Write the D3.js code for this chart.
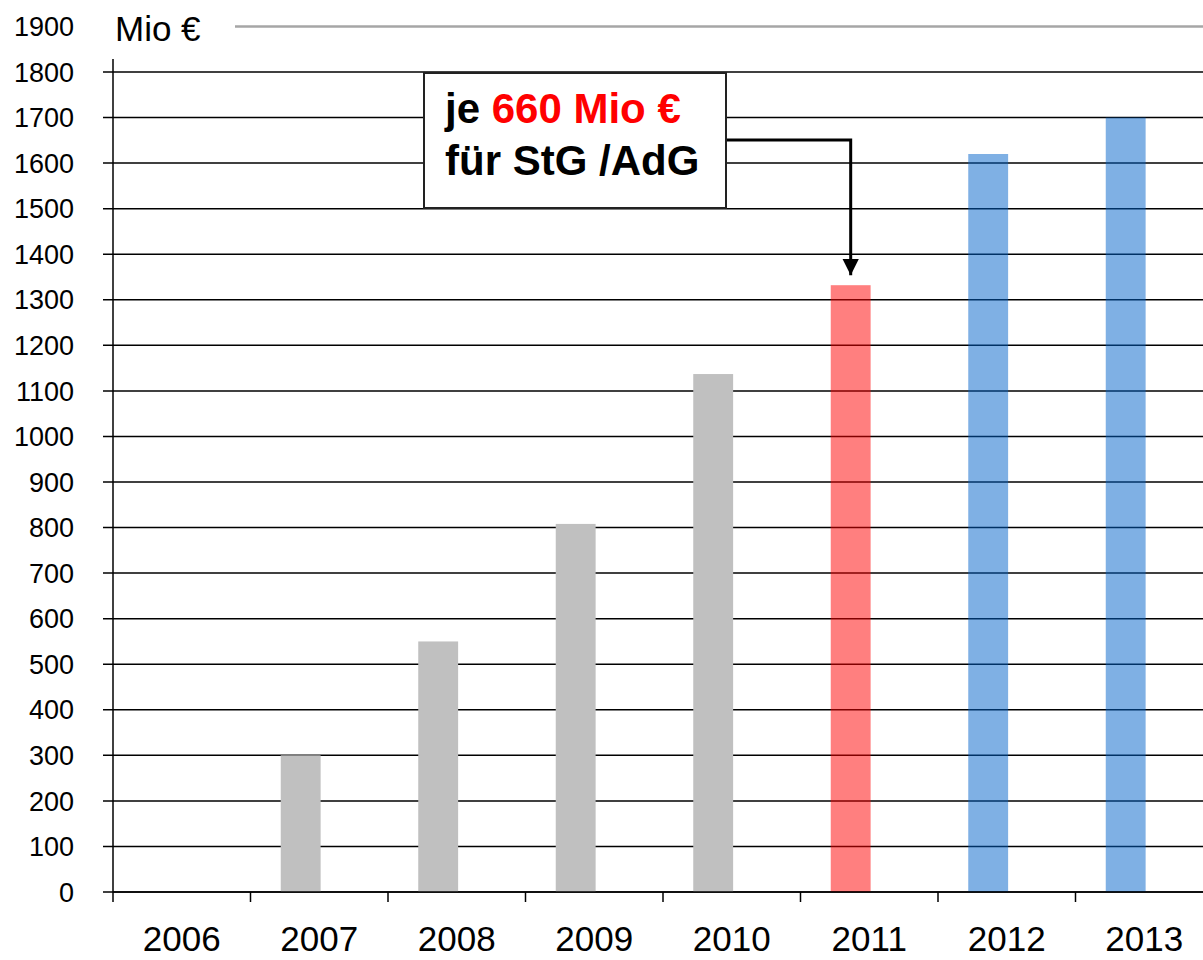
<!DOCTYPE html>
<html>
<head>
<meta charset="utf-8">
<script src="https://cdn.jsdelivr.net/npm/d3@7"></script>
<style>
  body { margin: 0; background: #fff; }
  svg { display: block; font-family: "Liberation Sans", Arial, sans-serif; }
</style>
</head>
<body>
<svg id="chart" width="1203" height="960"></svg>
<script>
const years = ["2006", "2007", "2008", "2009", "2010", "2011", "2012", "2013"];
const values = [0, 300, 550, 808, 1137, 1332, 1620, 1700];
const barColors = ["#c0c0c0", "#c0c0c0", "#c0c0c0", "#c0c0c0", "#c0c0c0", "#ff0000", "#0062c9", "#0062c9"];
const barOpacity = [1, 1, 1, 1, 1, 0.5, 0.5, 0.5];
const yTicks = d3.range(0, 1901, 100);
const noteLine1 = ["je ", "660 Mio €"];
const noteLine2 = "für StG /AdG";

const svg = d3.select("#chart");

const left = 113, bottom = 892;
const x = d3.scaleBand().domain(years).range([left, left + 8 * 137.5]);
const y = d3.scaleLinear().domain([0, 1800]).range([bottom, 72]);

// gridlines + ticks
svg.append("g").selectAll("line")
  .data(yTicks.filter(d => d < 1900))
  .enter().append("line")
  .attr("x1", left - 10).attr("x2", 1203)
  .attr("y1", d => y(d)).attr("y2", d => y(d))
  .attr("stroke", "#000").attr("stroke-width", 1.5);

// top (1900) line in grey
svg.append("line")
  .attr("x1", 235).attr("x2", 1203)
  .attr("y1", y(1900)).attr("y2", y(1900))
  .attr("stroke", "#a6a6a6").attr("stroke-width", 2.5);

// y labels
svg.append("g").selectAll("text")
  .data(yTicks)
  .enter().append("text")
  .attr("x", 74).attr("y", d => y(d))
  .attr("dy", "0.36em")
  .attr("text-anchor", "end")
  .style("font-size", "27px")
  .text(d => d);

svg.append("text")
  .attr("x", 115).attr("y", 41)
  .style("font-size", "35px")
  .text("Mio €");

// bars
svg.append("g").selectAll("rect")
  .data(years)
  .enter().append("rect")
  .attr("x", d => x(d) + x.bandwidth() * 0.22)
  .attr("width", x.bandwidth() * 0.29)
  .attr("y", (d, i) => y(values[i]))
  .attr("height", (d, i) => bottom - y(values[i]))
  .attr("fill", (d, i) => barColors[i])
  .attr("fill-opacity", (d, i) => barOpacity[i]);

// axes lines
svg.append("line")
  .attr("x1", left).attr("x2", left)
  .attr("y1", 59).attr("y2", bottom)
  .attr("stroke", "#000").attr("stroke-width", 1.5);
svg.append("line")
  .attr("x1", left).attr("x2", 1203)
  .attr("y1", bottom).attr("y2", bottom)
  .attr("stroke", "#000").attr("stroke-width", 1.5);

// x ticks at band boundaries
svg.append("g").selectAll("line")
  .data(years)
  .enter().append("line")
  .attr("x1", d => x(d)).attr("x2", d => x(d))
  .attr("y1", bottom).attr("y2", bottom + 10)
  .attr("stroke", "#000").attr("stroke-width", 1.5);

svg.append("g").selectAll("text")
  .data(years)
  .enter().append("text")
  .attr("x", d => x(d) + x.bandwidth() / 2)
  .attr("y", 951)
  .attr("text-anchor", "middle")
  .style("font-size", "35px")
  .text(d => d);

// annotation arrow
svg.append("defs").append("marker")
  .attr("id", "arrow")
  .attr("viewBox", "0 0 10 10")
  .attr("refX", 10).attr("refY", 5)
  .attr("markerWidth", 5.5).attr("markerHeight", 5.5)
  .attr("markerUnits", "strokeWidth")
  .attr("orient", "auto")
  .append("path").attr("d", "M0,0L10,5L0,10Z").attr("fill", "#000");

const arrowX = x("2011") + x.bandwidth() * 0.22 + x.bandwidth() * 0.145;
svg.append("path")
  .attr("d", `M726,140H${arrowX}V${y(values[5]) - 10}`)
  .attr("fill", "none")
  .attr("stroke", "#000").attr("stroke-width", 3)
  .attr("marker-end", "url(#arrow)");

// annotation box
svg.append("rect")
  .attr("x", 424).attr("y", 73)
  .attr("width", 302).attr("height", 135)
  .attr("fill", "#fff")
  .attr("stroke", "#222").attr("stroke-width", 2);

const t1 = svg.append("text")
  .attr("x", 445).attr("y", 123)
  .style("font-size", "42px").style("font-weight", "bold");
t1.append("tspan").attr("fill", "#000").text(noteLine1[0]);
t1.append("tspan").attr("fill", "#ff0000").text(noteLine1[1]);

svg.append("text")
  .attr("x", 445).attr("y", 175)
  .style("font-size", "42px").style("font-weight", "bold")
  .text(noteLine2);
</script>
</body>
</html>
